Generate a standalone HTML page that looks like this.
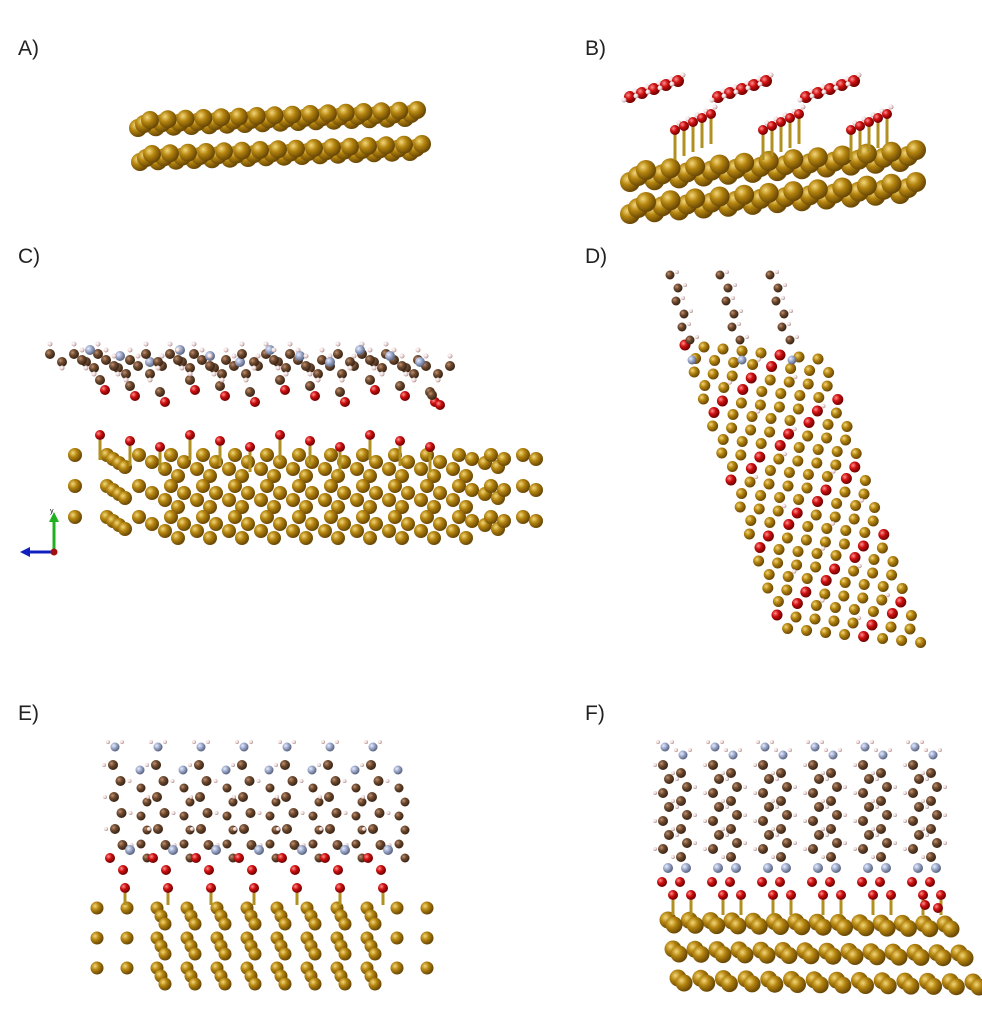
<!DOCTYPE html>
<html><head><meta charset="utf-8">
<style>
html,body{margin:0;padding:0;background:#fff;}
svg{display:block}
.l{font-family:"Liberation Sans",sans-serif;font-size:21px;fill:#222}
</style></head>
<body>
<svg id="s" width="982" height="1029" xmlns="http://www.w3.org/2000/svg">
<defs>
<radialGradient id="au" cx="35%" cy="35%" r="65%"><stop offset="0" stop-color="#f3d77a"/><stop offset="0.45" stop-color="#b5850f"/><stop offset="1" stop-color="#6a4805"/></radialGradient>
<radialGradient id="o" cx="35%" cy="35%" r="65%"><stop offset="0" stop-color="#ff9090"/><stop offset="0.45" stop-color="#d01010"/><stop offset="1" stop-color="#700000"/></radialGradient>
<radialGradient id="c" cx="35%" cy="35%" r="65%"><stop offset="0" stop-color="#c09070"/><stop offset="0.45" stop-color="#6e4a30"/><stop offset="1" stop-color="#3a2414"/></radialGradient>
<radialGradient id="h" cx="35%" cy="35%" r="65%"><stop offset="0" stop-color="#fff"/><stop offset="0.6" stop-color="#ecd6d6"/><stop offset="1" stop-color="#b09090"/></radialGradient>
<radialGradient id="n" cx="35%" cy="35%" r="65%"><stop offset="0" stop-color="#e8eeff"/><stop offset="0.5" stop-color="#9aa6c8"/><stop offset="1" stop-color="#5a6480"/></radialGradient>
</defs>
<text class="l" x="18" y="55">A)</text>
<text class="l" x="585" y="55">B)</text>
<text class="l" x="18" y="263">C)</text>
<text class="l" x="585" y="263">D)</text>
<text class="l" x="18" y="720">E)</text>
<text class="l" x="585" y="720">F)</text>
<g id="g"></g>
<g>
<line x1="28" y1="552" x2="54" y2="552" stroke="#1020c0" stroke-width="3"/>
<polygon points="20,552 30,547 30,557" fill="#1020c0"/>
<line x1="54" y1="552" x2="54" y2="520" stroke="#20b020" stroke-width="3"/>
<polygon points="54,512 49,522 59,522" fill="#20b020"/>
<circle cx="54" cy="552" r="3.5" fill="#a01010"/>
<text x="50" y="513" font-size="7" font-family="Liberation Sans">y</text>
</g>
</svg>
<script>
var g=document.getElementById('g'),out='';
function S(x,y,r,f){out+='<circle cx="'+x.toFixed(1)+'" cy="'+y.toFixed(1)+'" r="'+r+'" fill="url(#'+f+')"/>';}
function L(x1,y1,x2,y2,col,w){out+='<line x1="'+x1+'" y1="'+y1+'" x2="'+x2+'" y2="'+y2+'" stroke="'+col+'" stroke-width="'+(w||2.5)+'"/>';}
function row(x0,y0,x1,y1,n,r,f){for(var i=0;i<n;i++){var t=n>1?i/(n-1):0;S(x0+(x1-x0)*t,y0+(y1-y0)*t,r,f);}}
// A
for(var k=0;k<3;k++){row(138+k*6,128-k*4,405+k*6,118-k*4,16,9,'au');}
for(var k=0;k<3;k++){row(140+k*6,162-k*4,410+k*6,152-k*4,16,9,'au');}
// B
for(var k=0;k<3;k++){row(630+k*8,214-k*6,900+k*8,194-k*6,12,10,'au');}
for(var k=0;k<3;k++){row(630+k*8,182-k*6,900+k*8,162-k*6,12,10,'au');}
for(var b=0;b<3;b++){var bx=675+b*88;
 for(var j=0;j<5;j++){var x=bx+j*9,y=130-j*4;L(x,y,x,y+30,'#b09020',3);S(x,y,5,'o');S(x+4,y-7,2.5,'h');}
 for(var j=0;j<5;j++){var x=bx-45+j*12,y=97-j*4;S(x,y,6,'o');S(x-6,y+3,2.5,'h');S(x+5,y-6,2.5,'h');}
}
// C gold
for(var r=0;r<3;r++){for(var i=0;i<15;i++){for(var d=0;d<4;d++){
 var x=75+i*32+d*6+r*0,y=455+r*31+d*4; if(i<1&&d>0)continue; if(i>12&&d>1)continue;S(x+(i>1?(d*7):0),y+ (i>1&&i<12?d*3:0),7,'au');}}}
// C molecules
for(var m=0;m<12;m++){var x=100+m*30,y=360+(m%3)*6;
 for(var j=0;j<5;j++){S(x-50+j*12+ m*2,y-6+(j%2)*8,5,'c');S(x-50+j*12+m*2,y-16+(j%2)*24,2.5,'h');}
 S(x+5,y+30,5,'o');S(x,y+20,5,'c');S(x-10,y-10,5,'n');S(x,y+75,5,'o');L(x,y+80,x,y+100,'#b09020',3);
}
S(440,405,5,'o');S(432,395,5,'c');
// D tilted slab
for(var i=0;i<22;i++){for(var j=0;j<8;j++){var x=685+j*19+i*4.6+(i%2)*6,y=345+i*13.5+j*2;
 S(x,y,5.5, (i+j)%5==0?'o':'au'); if((i*j)%7==3)S(x+6,y-5,2.2,'h');}}
for(var m=0;m<3;m++){var x=670+m*50,y=275;for(var j=0;j<6;j++){S(x+j*3+(j%2)*5,y+j*13,4.5,'c');S(x+j*3+(j%2)*5+7,y+j*13-3,2,'h');}S(x+22,y+85,4.5,'n');}
// E gold
for(var r=0;r<3;r++){for(var i=0;i<12;i++){for(var d=0;d<3;d++){var x=97+i*30+d*4,y=908+r*30+d*8; if((i<2||i>9)&&d>0)continue;S(x,y,6.5,'au');}}}
// E molecules
for(var m=0;m<7;m++){var x=115+m*43;
 S(x,747,4.5,'n');S(x-7,742,2,'h');S(x+7,742,2,'h');
 for(var j=0;j<6;j++){var cx=x+(j%2?5:-2)+j*0.5,cy=765+j*16;S(cx,cy,5,'c');S(cx+(j%2?9:-9),cy,2,'h');}
 S(x+15,850,5,'n');S(x-5,858,5,'o');S(x+8,870,5,'o');S(x+10,888,5,'o');L(x+10,893,x+10,905,'#b09020',3);
 S(x+25,770,4.5,'n');for(var j=0;j<6;j++){S(x+28+(j%2?4:-2),788+j*14,4.5,'c');}
}
// F gold
for(var k=0;k<3;k++){for(var d=0;d<2;d++){row(668+k*5+d*6,940+k*29+d*5-20,945+k*14+d*6,944+k*29+d*5-20,14,8.5,'au');}}
// F molecules
for(var m=0;m<6;m++){var x=665+m*50;
 for(var s=0;s<2;s++){var xx=x+s*18;S(xx,747+s*8,4.5,'n');S(xx-7,742+s*8,2,'h');S(xx+7,742+s*8,2,'h');
 for(var j=0;j<7;j++){var cy=765+s*8+j*14;S(xx+(j%2?4:-2),cy,5,'c');S(xx+(j%2?12:-10),cy,2,'h');}
 S(xx+3,868,5,'n');S(xx-3,882,5,'o');S(xx+8,895,5,'o');L(xx+8,900,xx+8,915,'#b09020',3);}
}
S(925,905,5,'o');S(938,908,5,'o');
g.innerHTML=out;
</script>
</body></html>
